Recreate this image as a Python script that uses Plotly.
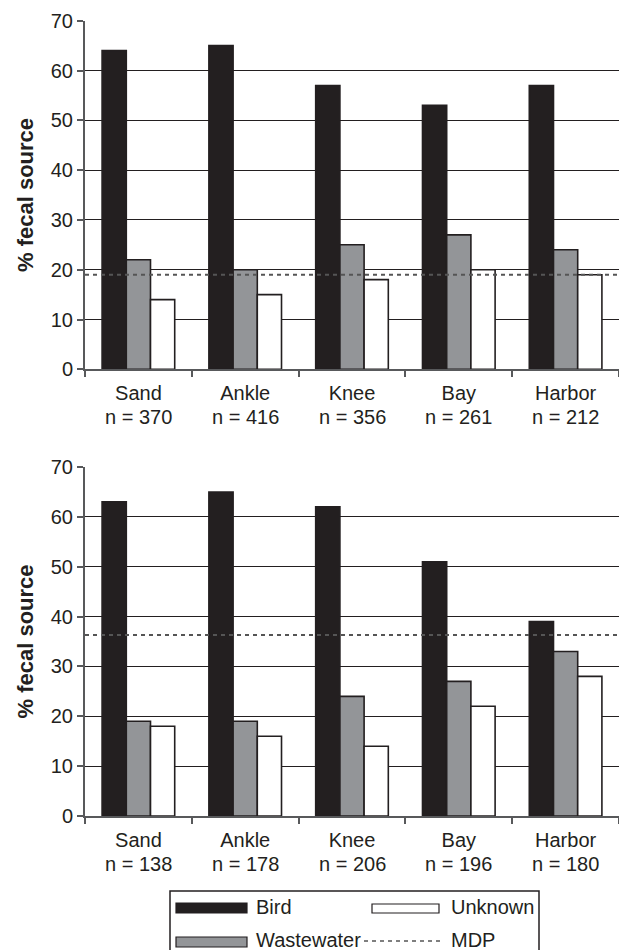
import plotly.graph_objects as go

# ---- data ----
sites = ["Sand", "Ankle", "Knee", "Bay", "Harbor"]
n_top = [370, 416, 356, 261, 212]
n_bottom = [138, 178, 206, 196, 180]

bird_top = [64, 65, 57, 53, 57]
waste_top = [22, 20, 25, 27, 24]
unknown_top = [14, 15, 18, 20, 19]
mdp_top = 19

bird_bottom = [63, 65, 62, 51, 39]
waste_bottom = [19, 19, 24, 27, 33]
unknown_bottom = [18, 16, 14, 22, 28]
mdp_bottom = 36.3

y_ticks = [0, 10, 20, 30, 40, 50, 60, 70]

# ---- style ----
W, H = 619, 950
FONT = "Liberation Sans, Arial, sans-serif"
DARK = "#231f20"
GRAY = "#939598"
AXIS = "#58595b"


def px(x):
    return x / W


def py(y):
    return 1 - y / H


fig = go.Figure()

series = [
    ("Bird", DARK, bird_top, bird_bottom),
    ("Wastewater", GRAY, waste_top, waste_bottom),
    ("Unknown", "white", unknown_top, unknown_bottom),
]
for name, color, top_vals, bot_vals in series:
    for vals, xa, ya in [(top_vals, "x", "y"), (bot_vals, "x2", "y2")]:
        fig.add_trace(go.Bar(
            x=sites, y=vals, name=name, xaxis=xa, yaxis=ya,
            marker=dict(color=color, line=dict(color=DARK, width=1.6)),
            showlegend=False, hoverinfo="x+y+name",
        ))

# MDP lines (data value on the y scale, spanning the axis domain)
for val, xr, yr in [(mdp_top, "x domain", "y"), (mdp_bottom, "x2 domain", "y2")]:
    fig.add_shape(type="line", xref=xr, yref=yr, x0=0, x1=1, y0=val, y1=val,
                  line=dict(color="#555555", width=2, dash="4px,4px"), layer="above")

xdom = [px(85), 1.0]
top_dom = [py(369.3), py(20.7)]
bot_dom = [py(816), py(467)]

axis_common_y = dict(
    range=[0, 70], tickvals=y_ticks, showgrid=True, gridcolor=DARK, gridwidth=1,
    showline=True, linecolor=AXIS, linewidth=2, ticks="outside", ticklen=6,
    tickcolor=AXIS, tickwidth=1.5, tickfont=dict(family=FONT, size=20, color=DARK),
    zeroline=False, automargin=False,
    title=dict(text="<b>% fecal source</b>", font=dict(family=FONT, size=22, color=DARK),
               standoff=11),
)
axis_common_x = dict(
    showline=True, linecolor=AXIS, linewidth=2, ticks="outside", ticklen=6,
    tickcolor=AXIS, tickwidth=1.5, tickson="boundaries", ticklabelstandoff=5,
    tickfont=dict(family=FONT, size=20, color=DARK), showgrid=False,
    automargin=False, categoryorder="array", categoryarray=sites,
)

fig.update_layout(
    width=W, height=H,
    margin=dict(l=0, r=0, t=0, b=0),
    paper_bgcolor="white", plot_bgcolor="white",
    barmode="group", bargap=0.32, bargroupgap=0,
    font=dict(family=FONT, size=20, color=DARK),
    xaxis=dict(domain=xdom, anchor="y", **axis_common_x),
    xaxis2=dict(domain=xdom, anchor="y2", **axis_common_x),
    yaxis=dict(domain=top_dom, anchor="x", **axis_common_y),
    yaxis2=dict(domain=bot_dom, anchor="x2", **axis_common_y),
)

# second line of category labels: sample counts
annotations = []
for s, n in zip(sites, n_top):
    annotations.append(dict(x=s, xref="x", y=py(417), yref="paper", text=f"n = {n}",
                            showarrow=False, yanchor="middle",
                            font=dict(family=FONT, size=20, color=DARK)))
for s, n in zip(sites, n_bottom):
    annotations.append(dict(x=s, xref="x2", y=py(864), yref="paper", text=f"n = {n}",
                            showarrow=False, yanchor="middle",
                            font=dict(family=FONT, size=20, color=DARK)))

# ---- legend (drawn as a boxed key below the panels) ----
shapes = [
    dict(type="rect", xref="paper", yref="paper", x0=px(170), x1=px(539),
         y0=py(965), y1=py(891), line=dict(color=DARK, width=1.5), fillcolor="white",
         layer="below"),
    dict(type="rect", xref="paper", yref="paper", x0=px(176), x1=px(247),
         y0=py(913), y1=py(903), line=dict(color=DARK, width=1.2), fillcolor=DARK),
    dict(type="rect", xref="paper", yref="paper", x0=px(176), x1=px(247),
         y0=py(947), y1=py(937), line=dict(color=DARK, width=1.2), fillcolor=GRAY),
    dict(type="rect", xref="paper", yref="paper", x0=px(372), x1=px(439),
         y0=py(913), y1=py(904), line=dict(color=DARK, width=1.2), fillcolor="white"),
    dict(type="line", xref="paper", yref="paper", x0=px(364), x1=px(440),
         y0=py(941), y1=py(941), line=dict(color="#555555", width=1.5, dash="4px,4px")),
]
for sh in shapes:
    fig.add_shape(**sh)

legend_items = [("Bird", 254, 907), ("Unknown", 449, 907),
                ("Wastewater", 254, 940), ("MDP", 449, 940)]
for text, lx, ly in legend_items:
    annotations.append(dict(x=px(lx), y=py(ly), xref="paper", yref="paper", text=text,
                            showarrow=False, xanchor="left", yanchor="middle",
                            font=dict(family=FONT, size=20, color=DARK)))

fig.update_layout(annotations=annotations)

fig.write_html(
    "out.html",
    config={"displayModeBar": False},
    post_script="document.body.style.margin='0';document.body.style.overflow='hidden';",
)
